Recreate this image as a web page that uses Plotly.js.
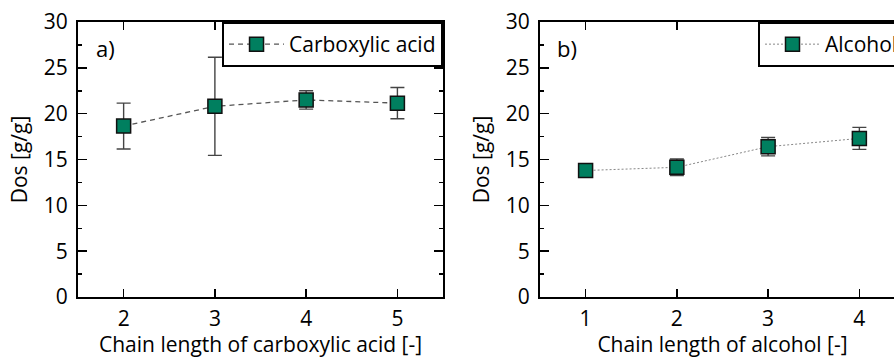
<!DOCTYPE html>
<html>
<head>
<meta charset="utf-8">
<script src="https://cdn.plot.ly/plotly-3.0.1.min.js"></script>
<style>
html,body{margin:0;padding:0;overflow:hidden;background:#fff;}
#chart{width:910px;height:358px;}
</style>
</head>
<body>
<div id="chart"></div>
<script>
// Panel a) carboxylic acid
const acidChain = [2, 3, 4, 5];
const acidDos = [18.65, 20.8, 21.5, 21.15];
const acidErr = [2.5, 5.35, 1.0, 1.7];
// Panel b) alcohol
const alcChain = [1, 2, 3, 4];
const alcDos = [13.8, 14.15, 16.4, 17.3];
const alcErr = [0.4, 0.9, 1.0, 1.2];

const FONT = "Open Sans";
const FS = 21;
const markerColor = "#007f5f";

const traceA = {
  x: acidChain, y: acidDos, type: "scatter", mode: "lines+markers",
  name: "Carboxylic acid", xaxis: "x", yaxis: "y", legend: "legend",
  line: {color: "#555", width: 1.3, dash: "5px,4px"},
  marker: {symbol: "square", size: 14, color: markerColor, line: {color: "#111", width: 1.5}},
  error_y: {type: "data", array: acidErr, visible: true, color: "#444", thickness: 1.4, width: 7}
};
const traceB = {
  x: alcChain, y: alcDos, type: "scatter", mode: "lines+markers",
  name: "Alcohol", xaxis: "x2", yaxis: "y2", legend: "legend2",
  line: {color: "#888", width: 1, dash: "2px,2px"},
  marker: {symbol: "square", size: 14, color: markerColor, line: {color: "#111", width: 1.5}},
  error_y: {type: "data", array: alcErr, visible: true, color: "#444", thickness: 1.4, width: 7}
};

function xax(range, domain, title, anchor) {
  return {
    domain: domain, range: range, anchor: anchor, dtick: 1, tick0: 0,
    showline: true, linecolor: "#000", linewidth: 2, mirror: "ticks",
    ticks: "inside", ticklen: 8, tickwidth: 1.5, tickcolor: "#000",
    showgrid: false, zeroline: false, ticklabelstandoff: 2,
    tickfont: {family: FONT, size: FS, color: "#000"},
    title: {text: title, font: {family: FONT, size: FS, color: "#000"}, standoff: 4}
  };
}
function yax(domainAnchor) {
  return {
    range: [0, 30], dtick: 5, anchor: domainAnchor,
    showline: true, linecolor: "#000", linewidth: 2, mirror: "ticks",
    ticks: "inside", ticklen: 9, tickwidth: 1.5, tickcolor: "#000",
    minor: {ticks: "inside", ticklen: 4, tickwidth: 1.5, tickcolor: "#000", dtick: 2.5, showgrid: false},
    showgrid: false, zeroline: false, ticklabelstandoff: 4,
    tickfont: {family: FONT, size: FS, color: "#000"},
    title: {text: "Dos [g/g]", font: {family: FONT, size: FS, color: "#000"}, standoff: 10}
  };
}

const layout = {
  width: 910, height: 358,
  margin: {l: 78, r: 5, t: 22, b: 61},
  paper_bgcolor: "#fff", plot_bgcolor: "#fff",
  showlegend: true,
  xaxis: xax([1.5, 5.5], [0, 0.4414], "Chain length of carboxylic acid [-]", "y"),
  yaxis: yax("x"),
  xaxis2: xax([0.5, 4.5], [0.5586, 1], "Chain length of alcohol [-]", "y2"),
  yaxis2: yax("x2"),
  legend: {
    x: 0.4414, y: 1, xanchor: "right", yanchor: "top",
    bgcolor: "#fff", bordercolor: "#000", borderwidth: 2,
    font: {family: FONT, size: FS, color: "#000"}, itemwidth: 55
  },
  legend2: {
    x: 1, y: 1, xanchor: "right", yanchor: "top",
    bgcolor: "#fff", bordercolor: "#000", borderwidth: 2,
    font: {family: FONT, size: FS, color: "#000"}, itemwidth: 55
  },
  annotations: [
    {text: "a)", xref: "x domain", yref: "y domain", x: 0.045, y: 0.905, xanchor: "left", yanchor: "middle",
     showarrow: false, font: {family: FONT, size: 22, color: "#000"}},
    {text: "b)", xref: "x2 domain", yref: "y2 domain", x: 0.04, y: 0.905, xanchor: "left", yanchor: "middle",
     showarrow: false, font: {family: FONT, size: 22, color: "#000"}}
  ]
};

Plotly.newPlot("chart", [traceA, traceB], layout, {staticPlot: true, displayModeBar: false});
</script>
</body>
</html>
